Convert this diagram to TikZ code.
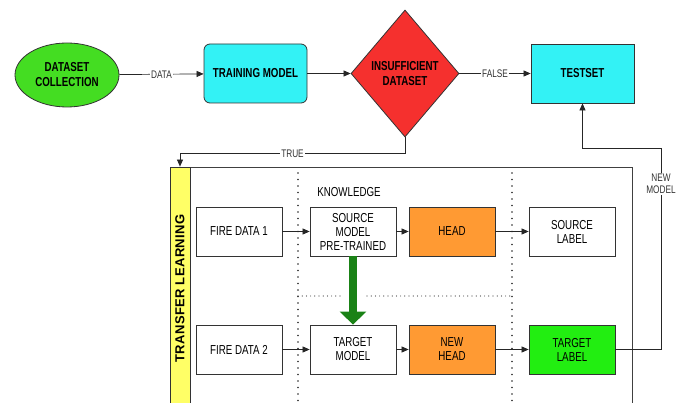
\documentclass[tikz,border=0pt]{standalone}
\usepackage{fontspec}
\setmainfont{Liberation Sans}
\newfontfamily\narrowsf{Liberation Sans}[FakeStretch=0.75]
\newfontfamily\spacedsf{Liberation Sans}[LetterSpace=3]
\usepackage{tikz}
\usetikzlibrary{arrows.meta,shapes.geometric,positioning}
\usepackage{xcolor}
\definecolor{mgreen}{HTML}{44DD22}
\definecolor{mcyan}{HTML}{33F2F5}
\definecolor{mred}{HTML}{F5302E}
\definecolor{morange}{HTML}{FF9A33}
\definecolor{myellow}{HTML}{FFFF66}
\definecolor{mlgreen}{HTML}{22EE11}
\definecolor{mdgreen}{HTML}{1A8216}
\tikzset{
  top/.style={draw=black!80,line width=0.8pt,align=center,inner sep=2pt,
    font=\narrowsf\bfseries\fontsize{13}{15}\selectfont},
  blk/.style={draw=black!80,line width=0.8pt,minimum width=86pt,minimum height=49pt,
    align=center,inner sep=1pt,font=\narrowsf\fontsize{13}{14}\selectfont},
  lbl/.style={fill=white,inner sep=1pt,text=black!80,align=center,
    font=\narrowsf\fontsize{11}{12}\selectfont},
  arr/.style={-{Triangle[length=7pt,width=6pt]},black!85,line width=0.7pt},
  vdots/.style={black!85,line width=1.7pt,line cap=round,dash pattern=on 0pt off 6.5pt},
  hdots/.style={black!75,line width=1.2pt,line cap=round,dash pattern=on 0pt off 4.2pt},
}
\begin{document}
\begin{tikzpicture}[x=1pt,y=-1pt]
    \useasboundingbox (0,0) rectangle (686,403);
    % top row
    \node[top,ellipse,fill=mgreen,minimum width=104pt,minimum height=64pt] (coll) at (67,75) {DATASET\\COLLECTION};
    \node[top,rounded corners=6pt,fill=mcyan,minimum width=103pt,minimum height=59pt] (train) at (255.5,73.5) {TRAINING MODEL};
    \node[top,diamond,fill=mred,minimum width=108pt,minimum height=127pt,inner sep=0pt] (insuf) at (405,73.5) {INSUFFICIENT\\DATASET};
    \node[top,fill=mcyan,minimum width=103pt,minimum height=59pt] (test) at (582.5,73.5) {TESTSET};
    \draw[arr] (coll) -- node[lbl]{DATA} (train);
    \draw[arr] (train) -- (insuf);
    \draw[arr] (insuf) -- node[lbl]{FALSE} (test);
    % transfer learning panel
    \draw[black!75,line width=0.8pt] (170,167) rectangle (632,410);
    \node[draw=black!80,fill=myellow,line width=0.8pt,rotate=90,minimum width=243pt,minimum height=20pt,inner sep=0pt,
      font=\spacedsf\bfseries\fontsize{13}{15}\selectfont] (tl) at (180,288.5) {TRANSFER LEARNING};
    \draw[vdots] (298,173) -- (298,403);
    \draw[vdots] (512,173) -- (512,403);
    \draw[hdots] (298,296) -- (342,296) (367,296) -- (512,296);
    \node[font=\narrowsf\fontsize{13}{14}\selectfont] (know) at (349,192) {KNOWLEDGE};
    % source row
    \node[blk] (fd1) at (239,231.5) {FIRE DATA 1};
    \node[blk] (sm) at (353,231.5) {SOURCE\\MODEL\\PRE-TRAINED};
    \node[blk,fill=morange] (head) at (452,231.5) {HEAD};
    \node[blk] (slab) at (572,231.5) {SOURCE\\LABEL};
    % target row
    \node[blk] (fd2) at (239,349.5) {FIRE DATA 2};
    \node[blk] (tm) at (353,349.5) {TARGET\\MODEL};
    \node[blk,fill=morange] (nhead) at (452,349.5) {NEW\\HEAD};
    \node[blk,fill=mlgreen] (tlab) at (572,349.5) {TARGET\\LABEL};
    \foreach \a/\b in {fd1/sm,sm/head,head/slab,fd2/tm,tm/nhead,nhead/tlab}
      \draw[arr] (\a.east) -- (\b.west);
    % knowledge transfer
    \draw[line width=8pt,mdgreen,-{Triangle[length=13pt,width=26pt]}] (sm.south) -- (tm.north);
    % loops back
    \draw[arr] (insuf.south) |- ([yshift=13pt]tl.east) node[lbl,pos=0.75]{TRUE} -- (tl.east);
    \coordinate (nm) at (661,148);
    \draw[arr] (tlab.east) -| (nm) node[lbl,pos=0.91]{NEW\\MODEL} -| (test.south);
  \end{tikzpicture}
\end{document}
